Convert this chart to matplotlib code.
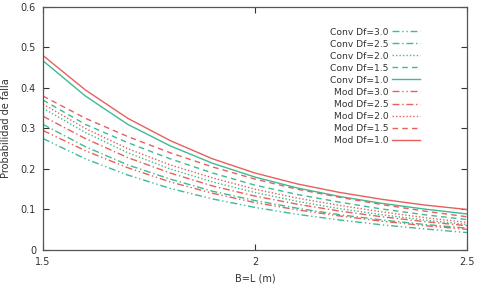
import matplotlib
matplotlib.use("Agg")
import matplotlib.pyplot as plt

x = [1.5, 1.6, 1.7, 1.8, 1.9, 2.0, 2.1, 2.2, 2.3, 2.4, 2.5]

conv_30 = [0.275, 0.225, 0.185, 0.152, 0.126, 0.105, 0.088, 0.074, 0.062, 0.052, 0.043]
conv_25 = [0.310, 0.255, 0.210, 0.175, 0.145, 0.122, 0.103, 0.087, 0.074, 0.063, 0.054]
conv_20 = [0.350, 0.290, 0.240, 0.200, 0.168, 0.142, 0.120, 0.102, 0.087, 0.074, 0.063]
conv_15 = [0.370, 0.310, 0.265, 0.225, 0.190, 0.160, 0.137, 0.118, 0.101, 0.087, 0.075]
conv_10 = [0.467, 0.380, 0.310, 0.257, 0.214, 0.180, 0.153, 0.132, 0.115, 0.101, 0.089]
mod_30 = [0.295, 0.245, 0.203, 0.168, 0.140, 0.117, 0.099, 0.084, 0.071, 0.060, 0.051]
mod_25 = [0.330, 0.275, 0.228, 0.190, 0.158, 0.133, 0.113, 0.096, 0.082, 0.070, 0.060]
mod_20 = [0.360, 0.300, 0.250, 0.210, 0.178, 0.150, 0.128, 0.110, 0.094, 0.080, 0.068]
mod_15 = [0.380, 0.325, 0.280, 0.240, 0.205, 0.175, 0.150, 0.130, 0.112, 0.096, 0.082]
mod_10 = [0.480, 0.395, 0.325, 0.270, 0.225, 0.190, 0.163, 0.142, 0.125, 0.111, 0.100]

labels = ["Conv Df=3.0", "Conv Df=2.5", "Conv Df=2.0", "Conv Df=1.5", "Conv Df=1.0",
          "Mod Df=3.0", "Mod Df=2.5", "Mod Df=2.0", "Mod Df=1.5", "Mod Df=1.0"]
series = [conv_30, conv_25, conv_20, conv_15, conv_10, mod_30, mod_25, mod_20, mod_15, mod_10]

teal = "#3dba96"
red = "#e8605a"
styles = [(0, (5, 2, 1, 2, 1, 2)), (0, (5, 2, 1, 2)), (0, (1, 1.5)), (0, (4, 3)), "-"]

fig = plt.figure(figsize=(4.79, 2.88), dpi=100)
ax = fig.add_axes([0.0898, 0.132, 0.885, 0.844])

for i, (lab, ys) in enumerate(zip(labels, series)):
    col = teal if i < 5 else red
    ax.plot(x, ys, color=col, linestyle=styles[i % 5], linewidth=1.0, label=lab)

ax.set_xlim(1.5, 2.5)
ax.set_ylim(0, 0.6)
ax.set_xticks([1.5, 2, 2.5])
ax.set_xticklabels(["1.5", "2", "2.5"])
ax.set_yticks([0, 0.1, 0.2, 0.3, 0.4, 0.5, 0.6])
ax.set_yticklabels(["0", "0.1", "0.2", "0.3", "0.4", "0.5", "0.6"])
ax.tick_params(direction="in", top=True, right=True, labelsize=7, colors="#333333",
               length=4, width=0.8, pad=5)
for s in ax.spines.values():
    s.set_color("#555555")
    s.set_linewidth(0.9)

ax.set_xlabel("B=L (m)", fontsize=7, color="#333333", labelpad=5)
ax.set_ylabel("Probabilidad de falla", fontsize=7, color="#333333", labelpad=7)

leg = ax.legend(loc="upper right", bbox_to_anchor=(0.889, 0.915), frameon=False,
                markerfirst=False, fontsize=6.6, handlelength=3.0, handletextpad=0.4,
                labelspacing=0.33, borderpad=0, borderaxespad=0)
for t in leg.get_texts():
    t.set_color("#333333")
    t.set_ha("right")
leg._legend_box.align = "right"

fig.savefig("out.png", dpi=100)
